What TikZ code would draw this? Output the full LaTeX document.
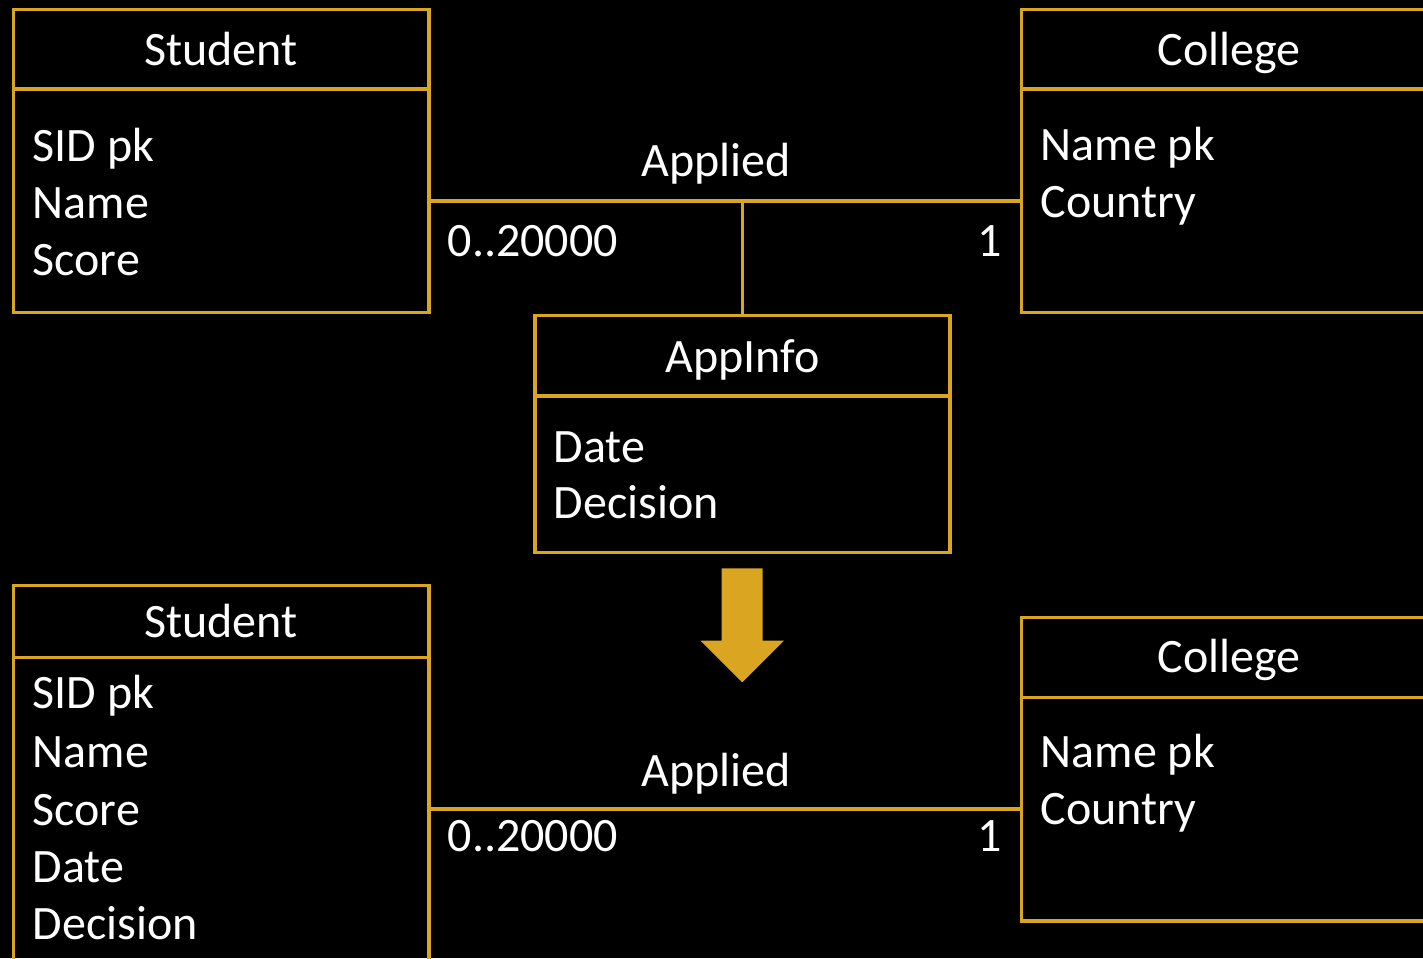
\documentclass[tikz,border=0pt]{standalone}
\usepackage{fontspec}
\setmainfont{Carlito}
\definecolor{gold}{HTML}{DAA520}
\begin{document}
\begin{tikzpicture}[x=1pt,y=-1pt,
  ln/.style={draw=gold, line width=3.2pt},
  entity/.style={ln, rectangle, inner sep=0pt, outer sep=0pt, anchor=north west},
  txt/.style={text=white, inner sep=0pt, font=\fontsize{48}{58}\selectfont},
  attr/.style={txt, anchor=base west},
  ttl/.style={txt, anchor=base},
]
\fill[black] (0,0) rectangle (1423,958);
\useasboundingbox (0,0) rectangle (1423,958);
\clip (0,0) rectangle (1423,958);

% ---------- upper diagram ----------
\node[entity, minimum width=415.5pt, minimum height=303pt] (s1) at (13.5,9.5) {};
\draw[ln] ([yshift=-79.5pt]s1.north west) -- ([yshift=-79.5pt]s1.north east);
\node[ttl] (s1t) at (221,65) {Student};
\node[attr] (s1a) at (32.5,161) {SID pk};
\node[attr] (s1b) at (32.5,218) {Name};
\node[attr] (s1c) at (32.5,275) {Score};

\node[entity, minimum width=415pt, minimum height=303pt] (c1) at (1021.5,9.5) {};
\draw[ln] ([yshift=-79.5pt]c1.north west) -- ([yshift=-79.5pt]c1.north east);
\node[ttl] (c1t) at (1229,65) {College};
\node[attr] (c1a) at (1040.5,160) {Name pk};
\node[attr] (c1b) at (1040.5,217) {Country};

\node[entity, minimum width=415pt, minimum height=237pt] (ai) at (535,315.5) {};
\draw[ln] ([yshift=-80.5pt]ai.north west) -- ([yshift=-80.5pt]ai.north east);
\node[ttl] (ait) at (742.5,372) {AppInfo};
\node[attr] (aia) at (553.5,462) {Date};
\node[attr] (aib) at (553.5,518) {Decision};

\coordinate (j1) at (742.5,201);
\draw[ln] (s1.east |- j1) -- (c1.west |- j1);
\draw[ln] (j1) -- (ai.north);
\node[ttl] (r1) at (716,176) {Applied};
\node[attr] (r1l) at (447.5,256) {0..20000};
\node[txt, anchor=base east] (r1r) at (1002,256) {1};

% ---------- transformation arrow ----------
\fill[gold] (721.7,568.3) -- (762.7,568.3) -- (762.7,640.7) -- (784,640.7)
  -- (742.3,682.3) -- (700.5,640.7) -- (721.7,640.7) -- cycle;

% ---------- lower diagram ----------
\node[entity, minimum width=415.5pt, minimum height=400pt] (s2) at (13.5,585.5) {};
\draw[ln] ([yshift=-72.2pt]s2.north west) -- ([yshift=-72.2pt]s2.north east);
\node[ttl] (s2t) at (221,637) {Student};
\node[attr] (s2a) at (32.5,708) {SID pk};
\node[attr] (s2b) at (32.5,767) {Name};
\node[attr] (s2c) at (32.5,825) {Score};
\node[attr] (s2d) at (32.5,882) {Date};
\node[attr] (s2e) at (32.5,939) {Decision};

\node[entity, minimum width=415pt, minimum height=303.7pt] (c2) at (1021.5,617.3) {};
\draw[ln] ([yshift=-80pt]c2.north west) -- ([yshift=-80pt]c2.north east);
\node[ttl] (c2t) at (1229,672) {College};
\node[attr] (c2a) at (1040.5,767) {Name pk};
\node[attr] (c2b) at (1040.5,824) {Country};

\coordinate (j2) at (742.5,809);
\draw[ln] (s2.east |- j2) -- (c2.west |- j2);
\node[ttl] (r2) at (716,786) {Applied};
\node[attr] (r2l) at (447.5,851) {0..20000};
\node[txt, anchor=base east] (r2r) at (1002,851) {1};
\end{tikzpicture}
\end{document}
